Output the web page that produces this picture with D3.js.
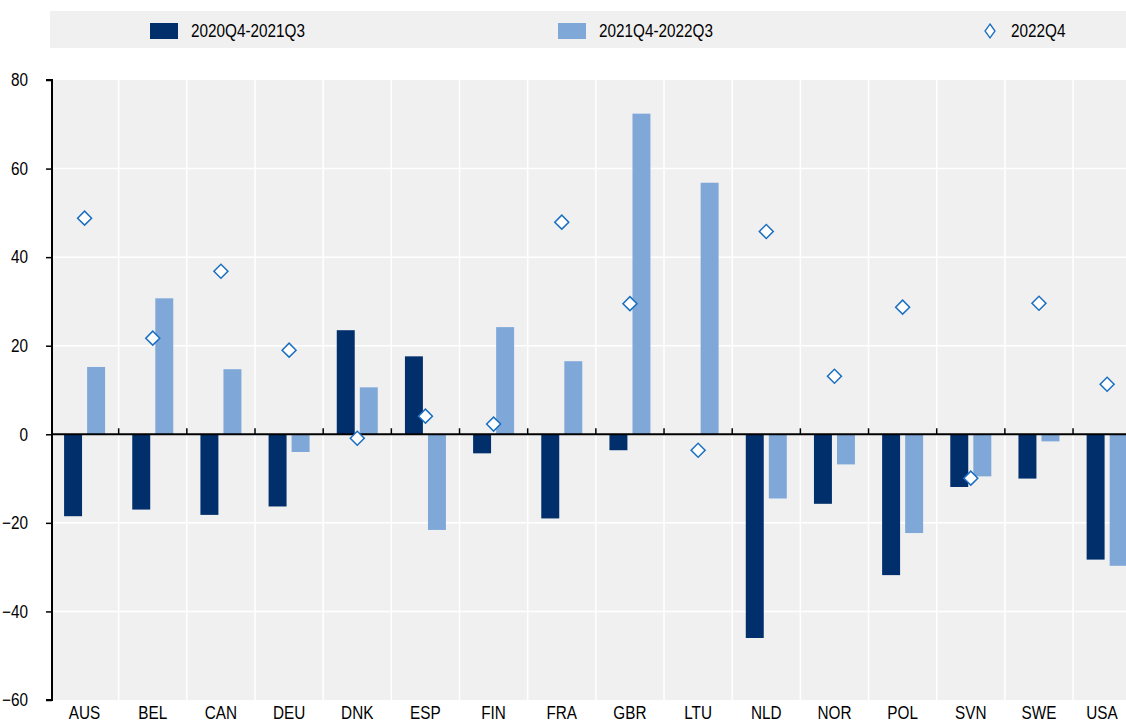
<!DOCTYPE html>
<html>
<head>
<meta charset="utf-8">
<script src="https://cdn.jsdelivr.net/npm/d3@7"></script>
<style>
  body { margin: 0; background: #fff; }
  svg { display: block; }
  text { font-family: "Liberation Sans Narrow", "Arial Narrow", "Liberation Sans", Arial, sans-serif; fill: #000; }
</style>
</head>
<body>
<script>
// data
const countries = ['AUS','BEL','CAN','DEU','DNK','ESP','FIN','FRA','GBR','LTU','NLD','NOR','POL','SVN','SWE','USA'];
const s2021 = [-18.5, -17, -18.2, -16.3, 23.5, 17.6, -4.3, -19, -3.6, 0, -46, -15.7, -31.8, -11.9, -10, -28.3];
const s2022 = [15.2, 30.7, 14.7, -4.0, 10.6, -21.6, 24.2, 16.5, 72.4, 56.8, -14.5, -6.8, -22.3, -9.5, -1.6, -29.7];
const q2022 = [48.8, 21.7, 36.8, 19, -0.9, 4.1, 2.3, 47.9, 29.5, -3.6, 45.8, 13.1, 28.7, -9.9, 29.6, 11.3];
const seriesNames = ['2020Q4-2021Q3', '2021Q4-2022Q3', '2022Q4'];
const yTicks = [-60, -40, -20, 0, 20, 40, 60, 80];

const width = 1126, height = 723;
const margin = { top: 80, bottom: 23, left: 52 };
const bandStart = 50.5, band = 68.17;
const dark = '#002f6c', light = '#7fa8d9', diamondCol = '#1b6fc0';

const svg = d3.select('body').append('svg')
  .attr('width', width).attr('height', height);

const x = d3.scaleBand()
  .domain(countries)
  .range([bandStart, bandStart + band * countries.length])
  .padding(0);

const x1 = d3.scaleBand()
  .domain(['a', 'b'])
  .range([x.bandwidth() / 2 - 20.5, x.bandwidth() / 2 + 20.5])
  .paddingInner(0.22);

const y = d3.scaleLinear()
  .domain([-60, 80])
  .range([height - margin.bottom, margin.top]);

// plot background
svg.append('rect')
  .attr('x', margin.left).attr('y', y(80))
  .attr('width', width - margin.left).attr('height', y(-60) - y(80))
  .attr('fill', '#f0f0f0');

// grid
svg.append('g').selectAll('line.h')
  .data(yTicks.filter(d => d !== 0 && d !== -60 && d !== 80))
  .join('line')
  .attr('x1', margin.left).attr('x2', width)
  .attr('y1', d => y(d)).attr('y2', d => y(d))
  .attr('stroke', '#fff').attr('stroke-width', 1.5);

svg.append('g').selectAll('line.v')
  .data(countries.slice(1))
  .join('line')
  .attr('x1', d => x(d)).attr('x2', d => x(d))
  .attr('y1', y(80)).attr('y2', y(-60))
  .attr('stroke', '#fff').attr('stroke-width', 1.5);

// bars
const groups = svg.append('g').selectAll('g')
  .data(countries)
  .join('g')
  .attr('transform', d => `translate(${x(d)},0)`);

groups.append('rect')
  .attr('x', x1('a'))
  .attr('width', x1.bandwidth())
  .attr('y', (d, i) => y(Math.max(0, s2021[i])))
  .attr('height', (d, i) => Math.abs(y(s2021[i]) - y(0)))
  .attr('fill', dark);

groups.append('rect')
  .attr('x', x1('b'))
  .attr('width', x1.bandwidth())
  .attr('y', (d, i) => y(Math.max(0, s2022[i])))
  .attr('height', (d, i) => Math.abs(y(s2022[i]) - y(0)))
  .attr('fill', light);

// axes
const yaxis = svg.append('g')
  .attr('transform', `translate(${margin.left},0)`)
  .call(d3.axisLeft(y).tickValues(yTicks).tickSize(6).tickPadding(18).tickFormat(d3.format('d')));
yaxis.select('.domain').attr('stroke', '#000').attr('stroke-width', 2).attr('d', `M-6,${y(80)}H0V${y(-60)}H-6`);
yaxis.selectAll('.tick line').attr('stroke', '#000').attr('stroke-width', 1.5);
yaxis.selectAll('.tick text').style('font-size', '18px').attr('fill', '#000');

// zero line with ticks
svg.append('line')
  .attr('x1', margin.left).attr('x2', width)
  .attr('y1', y(0)).attr('y2', y(0))
  .attr('stroke', '#000').attr('stroke-width', 2);
svg.append('g').selectAll('line')
  .data(countries.slice(1))
  .join('line')
  .attr('x1', d => x(d)).attr('x2', d => x(d))
  .attr('y1', y(0)).attr('y2', y(0) - 6)
  .attr('stroke', '#000').attr('stroke-width', 1.5);

// category labels (the last one is kept inside the frame)
svg.append('g').selectAll('text')
  .data(countries)
  .join('text')
  .attr('x', d => Math.min(x(d) + x.bandwidth() / 2, width - 24))
  .attr('y', height - 4)
  .attr('text-anchor', 'middle')
  .style('font-size', '18px')
  .text(d => d);

// diamonds
const diamond = d3.symbol().type(d3.symbolSquare).size(98);
svg.append('g').selectAll('path')
  .data(countries)
  .join('path')
  .attr('d', diamond)
  .attr('transform', (d, i) => `translate(${x(d) + x.bandwidth() / 2},${y(q2022[i])}) rotate(45)`)
  .attr('fill', '#fff')
  .attr('stroke', diamondCol)
  .attr('stroke-width', 1.5);

// legend
const leg = svg.append('g');
leg.append('rect')
  .attr('x', 50).attr('y', 11)
  .attr('width', width - 50).attr('height', 37)
  .attr('fill', '#f0f0f0');
leg.append('rect').attr('x', 150).attr('y', 23).attr('width', 28).attr('height', 16).attr('fill', dark);
leg.append('text').attr('x', 191).attr('y', 37).style('font-size', '18px').text(seriesNames[0]);
leg.append('rect').attr('x', 558).attr('y', 23).attr('width', 28).attr('height', 16).attr('fill', light);
leg.append('text').attr('x', 599).attr('y', 37).style('font-size', '18px').text(seriesNames[1]);
leg.append('path')
  .attr('d', 'M990,24L995,31L990,38L985,31Z')
  .attr('fill', '#fff').attr('stroke', diamondCol).attr('stroke-width', 1.3);
leg.append('text').attr('x', 1011).attr('y', 37).style('font-size', '18px').text(seriesNames[2]);

// narrow the text like the condensed face in the original
svg.selectAll('text').each(function () {
  const len = this.getComputedTextLength();
  d3.select(this).attr('textLength', len * 0.85).attr('lengthAdjust', 'spacingAndGlyphs');
});
</script>
</body>
</html>
